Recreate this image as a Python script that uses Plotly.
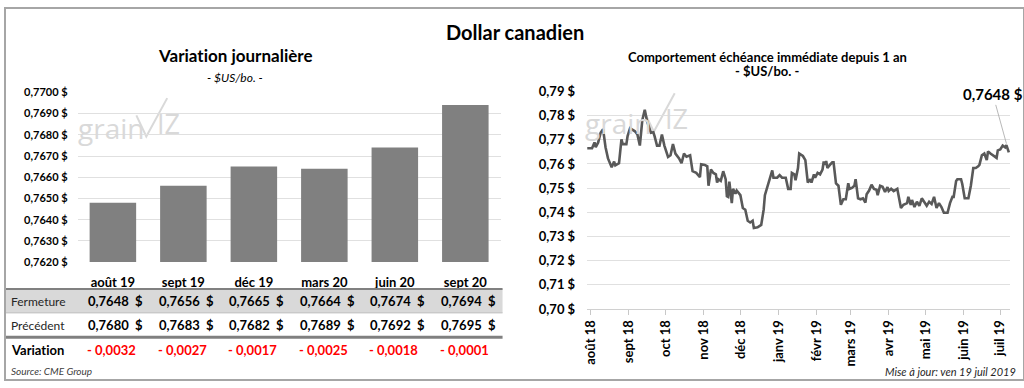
import plotly.graph_objects as go

# ---------------- data ----------------
contracts = ["août 19", "sept 19", "déc 19", "mars 20", "juin 20", "sept 20"]
fermeture = [0.7648, 0.7656, 0.7665, 0.7664, 0.7674, 0.7694]
precedent = [0.7680, 0.7683, 0.7682, 0.7689, 0.7692, 0.7695]
variation = [-0.0032, -0.0027, -0.0017, -0.0025, -0.0018, -0.0001]

bar_ticks = [0.762, 0.763, 0.764, 0.765, 0.766, 0.767, 0.768, 0.769, 0.770]

hist_dates = [
    "2018-07-29", "2018-08-02", "2018-08-04", "2018-08-05", "2018-08-07", "2018-08-09", "2018-08-11",
    "2018-08-13", "2018-08-15", "2018-08-18", "2018-08-20", "2018-08-21", "2018-08-24", "2018-08-26",
    "2018-08-27", "2018-08-30", "2018-08-31", "2018-09-02", "2018-09-06", "2018-09-08", "2018-09-10",
    "2018-09-12", "2018-09-14", "2018-09-16", "2018-09-19", "2018-09-21", "2018-09-22", "2018-09-24",
    "2018-09-26", "2018-09-28", "2018-09-30", "2018-10-03", "2018-10-05", "2018-10-07", "2018-10-09",
    "2018-10-12", "2018-10-14", "2018-10-16", "2018-10-18", "2018-10-21", "2018-10-23", "2018-10-26",
    "2018-10-29", "2018-10-30", "2018-11-02", "2018-11-04", "2018-11-05", "2018-11-07", "2018-11-09",
    "2018-11-11", "2018-11-12", "2018-11-13", "2018-11-15", "2018-11-17", "2018-11-19", "2018-11-20",
    "2018-11-21", "2018-11-22", "2018-11-24", "2018-11-25", "2018-11-27", "2018-11-28", "2018-12-01",
    "2018-12-03", "2018-12-05", "2018-12-07", "2018-12-09", "2018-12-11", "2018-12-12", "2018-12-15",
    "2018-12-18", "2018-12-20", "2018-12-21", "2018-12-23", "2018-12-25", "2018-12-27", "2018-12-28",
    "2018-12-31", "2019-01-02", "2019-01-04", "2019-01-07", "2019-01-09", "2019-01-11", "2019-01-12",
    "2019-01-14", "2019-01-15", "2019-01-17", "2019-01-18", "2019-01-21", "2019-01-23", "2019-01-25",
    "2019-01-27", "2019-01-28", "2019-01-30", "2019-01-31", "2019-02-02", "2019-02-04", "2019-02-06",
    "2019-02-07", "2019-02-08", "2019-02-09", "2019-02-10", "2019-02-12", "2019-02-14", "2019-02-15",
    "2019-02-17", "2019-02-19", "2019-02-20", "2019-02-21", "2019-02-23", "2019-02-25", "2019-02-27",
    "2019-02-28", "2019-03-02", "2019-03-04", "2019-03-05", "2019-03-07", "2019-03-09", "2019-03-11",
    "2019-03-13", "2019-03-14", "2019-03-16", "2019-03-18", "2019-03-20", "2019-03-22", "2019-03-23",
    "2019-03-25", "2019-03-27", "2019-03-29", "2019-03-31", "2019-04-01", "2019-04-03", "2019-04-05",
    "2019-04-08", "2019-04-11", "2019-04-13", "2019-04-16", "2019-04-17", "2019-04-19", "2019-04-20",
    "2019-04-22", "2019-04-24", "2019-04-26", "2019-04-28", "2019-04-30", "2019-05-02", "2019-05-04",
    "2019-05-06", "2019-05-08", "2019-05-10", "2019-05-12", "2019-05-14", "2019-05-16", "2019-05-19",
    "2019-05-21", "2019-05-23", "2019-05-24", "2019-05-26", "2019-05-27", "2019-05-30", "2019-05-31",
    "2019-06-02", "2019-06-05", "2019-06-07", "2019-06-09", "2019-06-11", "2019-06-13", "2019-06-14",
    "2019-06-16", "2019-06-18", "2019-06-20", "2019-06-21", "2019-06-23", "2019-06-25", "2019-06-28",
    "2019-06-29", "2019-07-01", "2019-07-03", "2019-07-05", "2019-07-06", "2019-07-08",
]
hist_values = [
    0.7665, 0.7665, 0.7689, 0.7669, 0.7689, 0.7729, 0.7744,
    0.7669, 0.7623, 0.7586, 0.7610, 0.7594, 0.7603, 0.7702,
    0.7682, 0.7682, 0.7715, 0.7748, 0.7735, 0.7722, 0.7676,
    0.7781, 0.7824, 0.7775, 0.7729, 0.7731, 0.7715, 0.7676,
    0.7676, 0.7722, 0.7676, 0.7629, 0.7636, 0.7682, 0.7643,
    0.7623, 0.7603, 0.7643, 0.7630, 0.7636, 0.7570, 0.7563,
    0.7546, 0.7599, 0.7596, 0.7590, 0.7510, 0.7577, 0.7563,
    0.7557, 0.7523, 0.7537, 0.7530, 0.7570, 0.7537, 0.7467,
    0.7464, 0.7527, 0.7438, 0.7497, 0.7477, 0.7490, 0.7471,
    0.7418, 0.7411, 0.7365, 0.7358, 0.7365, 0.7335, 0.7338,
    0.7348, 0.7411, 0.7471, 0.7504, 0.7530, 0.7573, 0.7543,
    0.7543, 0.7554, 0.7543, 0.7543, 0.7497, 0.7497, 0.7563,
    0.7557, 0.7533, 0.7583, 0.7643, 0.7633, 0.7616, 0.7523,
    0.7537, 0.7523, 0.7557, 0.7543, 0.7563, 0.7557, 0.7577,
    0.7610, 0.7596, 0.7612, 0.7583, 0.7596, 0.7607, 0.7607,
    0.7520, 0.7510, 0.7464, 0.7431, 0.7454, 0.7454, 0.7520,
    0.7497, 0.7501, 0.7510, 0.7537, 0.7458, 0.7454, 0.7458,
    0.7440, 0.7475, 0.7490, 0.7514, 0.7497, 0.7493, 0.7471,
    0.7510, 0.7506, 0.7484, 0.7504, 0.7488, 0.7497, 0.7488,
    0.7497, 0.7418, 0.7431, 0.7438, 0.7464, 0.7431, 0.7451,
    0.7422, 0.7444, 0.7427, 0.7458, 0.7444, 0.7427, 0.7444,
    0.7435, 0.7464, 0.7418, 0.7438, 0.7422, 0.7398, 0.7398,
    0.7438, 0.7464, 0.7464, 0.7530, 0.7537, 0.7537, 0.7517,
    0.7458, 0.7458, 0.7510, 0.7583, 0.7583, 0.7590, 0.7596,
    0.7636, 0.7643, 0.7616, 0.7652, 0.7643, 0.7636, 0.7625,
    0.7656, 0.7660, 0.7676, 0.7669, 0.7678, 0.7648,
]

month_ticks = ["2018-08-01", "2018-09-01", "2018-10-01", "2018-11-01", "2018-12-01", "2019-01-01",
               "2019-02-01", "2019-03-01", "2019-04-01", "2019-05-01", "2019-06-01", "2019-07-01"]
month_labels = ["août 18", "sept 18", "oct 18", "nov 18", "déc 18", "janv 19",
                "févr 19", "mars 19", "avr 19", "mai 19", "juin 19", "juil 19"]
line_ticks = [0.70, 0.71, 0.72, 0.73, 0.74, 0.75, 0.76, 0.77, 0.78, 0.79]

# ---------------- layout helpers ----------------
W, H = 1024, 388
FONT = "Lato"
ZW = "\u200c"  # prevents the Lato "ti" ligature


def px(x):
    return x / W


def py(y):
    return 1 - y / H


def fr(v, d=4):
    return f"{v:.{d}f}".replace(".", ",")


fig = go.Figure()

fig.add_trace(go.Bar(x=contracts, y=fermeture, marker=dict(color="#808080", line=dict(width=0)),
                     xaxis="x", yaxis="y", hoverinfo="skip"))
fig.add_trace(go.Scatter(x=hist_dates, y=hist_values, mode="lines",
                         line=dict(color="#595959", width=2.6), xaxis="x2", yaxis="y2",
                         hoverinfo="skip"))

grid = "#e0e0e0"
fig.update_layout(
    width=W, height=H, margin=dict(l=0, r=0, t=0, b=0), autosize=False,
    paper_bgcolor="white", plot_bgcolor="white", showlegend=False,
    separators=", ", bargap=0.34,
    font=dict(family=FONT, color="#000000"),
    xaxis=dict(domain=[px(73), px(498)], type="category", showgrid=False, zeroline=False,
               showline=False, ticks="", ticklabelstandoff=11,
               tickfont=dict(size=13, weight="bold", color="#000000")),
    yaxis=dict(domain=[py(265), py(88)], range=[0.762, 0.770], tickvals=bar_ticks,
               ticktext=[fr(v) + " $" for v in bar_ticks],
               showgrid=True, gridcolor=grid, gridwidth=1,
               zeroline=False, ticks="", ticklabelstandoff=9,
               tickfont=dict(size=11, weight="bold", color="#000000")),
    xaxis2=dict(domain=[px(585), px(1010)], type="date", anchor="y2",
                range=["2018-07-29", "2019-07-09"], tickvals=month_ticks, ticktext=month_labels,
                tickangle=-90, ticks="outside", ticklen=5, tickcolor="#c8c8c8",
                showgrid=False, showline=True, linecolor="#d0d0d0", zeroline=False,
                tickfont=dict(size=13, weight="bold", color="#000000")),
    yaxis2=dict(domain=[py(314), py(87)], anchor="x2", range=[0.70, 0.79], tickvals=line_ticks,
                ticktext=[fr(v, 2) + " $" for v in line_ticks],
                showgrid=True, gridcolor=grid, gridwidth=1,
                zeroline=False, ticks="", ticklabelstandoff=11,
                tickfont=dict(size=13, weight="bold", color="#000000")),
)

ann = []


def text(x, y, s, size, bold=False, italic=False, color="#000000", xanchor="center"):
    ann.append(dict(x=x, y=y, xref="paper", yref="paper", text=s, showarrow=False,
                    xanchor=xanchor, yanchor="middle",
                    font=dict(family=FONT, size=size, color=color,
                              weight="bold" if bold else "normal",
                              style="italic" if italic else "normal")))


text(px(512), py(25), "Dollar canadien", 20, bold=True)
text(px(231), py(50), f"Variat{ZW}ion journalière", 17, bold=True)
text(px(231), py(72), "- $US/bo. -", 12, italic=True)
text(px(766), py(51), "Comportement échéance immédiate depuis 1 an", 13, bold=True)
text(px(766), py(66), "- $US/bo. -", 13, bold=True)
text(px(4), py(379), "Source: CME Group", 10, italic=True, color="#404040", xanchor="left")
text(px(1018), py(379), "Mise à jour: ven 19 juil 2019", 11, italic=True, color="#262626",
     xanchor="right")

# table row labels
text(px(4), py(306), "Fermeture", 12, color="#262626", xanchor="left")
text(px(4), py(331), "Précédent", 12, color="#262626", xanchor="left")
text(px(4), py(357), f"Variat{ZW}ion", 13, bold=True, xanchor="left")

for c, f, p, v in zip(contracts, fermeture, precedent, variation):
    ann.append(dict(x=c, y=py(306), xref="x", yref="paper", text=fr(f) + "  $", showarrow=False,
                    xshift=3, yanchor="middle",
                    font=dict(family=FONT, size=13, weight="bold", color="#000000")))
    ann.append(dict(x=c, y=py(331), xref="x", yref="paper", text=fr(p) + "  $", showarrow=False,
                    xshift=3, yanchor="middle",
                    font=dict(family=FONT, size=13, weight="bold", color="#000000")))
    sign = "- " if v < 0 else "+ "
    ann.append(dict(x=c, y=py(357), xref="x", yref="paper", text=sign + fr(abs(v)),
                    showarrow=False, xshift=-1, yanchor="middle",
                    font=dict(family=FONT, size=13, weight="bold", color="#ff0000")))

# last value callout
ann.append(dict(x=hist_dates[-1], y=hist_values[-1], xref="x2", yref="y2",
                text=fr(hist_values[-1]) + " $", showarrow=True, arrowhead=0, arrowwidth=0.8,
                arrowcolor="#a6a6a6", ax=-16, ay=-58, standoff=9,
                font=dict(family=FONT, size=15, weight="bold", color="#000000")))

shapes = []
# table band and rules
shapes.append(dict(type="rect", xref="paper", yref="paper", x0=0, x1=px(500), y0=py(318),
                   y1=py(293), fillcolor="#d9d9d9", line=dict(width=0), layer="below"))
shapes.append(dict(type="line", xref="paper", yref="paper", x0=0, x1=px(500), y0=py(293),
                   y1=py(293), line=dict(color="#808080", width=2)))
shapes.append(dict(type="line", xref="paper", yref="paper", x0=0, x1=px(500), y0=py(318),
                   y1=py(318), line=dict(color="#bfbfbf", width=1)))
shapes.append(dict(type="line", xref="paper", yref="paper", x0=0, x1=px(500), y0=py(343.5),
                   y1=py(343.5), line=dict(color="#808080", width=3)))
# outer frame
shapes.append(dict(type="rect", xref="paper", yref="paper", x0=0, x1=1, y0=0, y1=1,
                   line=dict(color="#a6a6a6", width=2)))


# watermark "grainwiz"
def watermark(dx, dy):
    wm = "#d9d9d9"
    ann.append(dict(x=px(71 + dx), y=py(125 + dy), xref="paper", yref="paper", text="grain",
                    showarrow=False, xanchor="left", yanchor="middle",
                    font=dict(family="Open Sans", size=28, color=wm)))
    ann.append(dict(x=px(151 + dx), y=py(120 + dy), xref="paper", yref="paper", text="IZ",
                    showarrow=False, xanchor="left", yanchor="middle",
                    font=dict(family="Open Sans", size=27, color=wm)))
    shapes.append(dict(type="path", xref="paper", yref="paper",
                       path=f"M {px(132 + dx)} {py(112 + dy)} L {px(142 + dx)} {py(134 + dy)} "
                            f"L {px(163 + dx)} {py(94 + dy)}",
                       line=dict(color=wm, width=2), layer="below"))


watermark(0, 0)
watermark(510, -5)

fig.update_layout(annotations=ann, shapes=shapes)
fig.write_html(
    "out.html",
    config={"displayModeBar": False, "responsive": False},
    post_script="document.body.style.margin='0';document.body.style.overflow='hidden';",
)
